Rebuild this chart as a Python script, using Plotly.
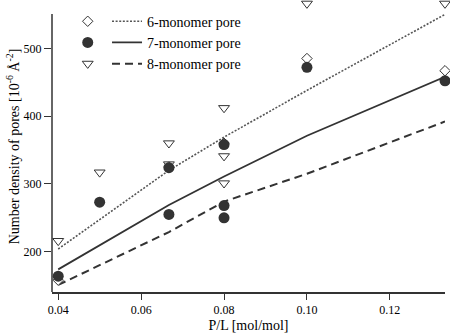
import plotly.graph_objects as go

x6 = [0.04, 0.0667, 0.08, 0.10, 0.1333]
y6 = [158, 325, 360, 485, 467]

x7 = [0.04, 0.05, 0.0667, 0.0667, 0.08, 0.08, 0.08, 0.10, 0.1333]
y7 = [164, 273, 324, 255, 358, 268, 250, 472, 452]

x8 = [0.04, 0.05, 0.0667, 0.0667, 0.08, 0.08, 0.08, 0.10, 0.1333]
y8 = [216, 317, 360, 329, 412, 341, 301, 566, 566]

# curvas del modelo
x_fit = [0.04, 0.0667, 0.08, 0.10, 0.1333]
fit6 = [204, 320, 369, 438, 550]
fit7 = [174, 269, 311, 371, 458]
fit8 = [151, 229, 274, 315, 392]

names = ["6-monomer pore", "7-monomer pore", "8-monomer pore"]

ink = "#333333"
fnt = "Liberation Serif"

y_lo, y_axis_top, y_hi = 140.6, 550.6, 569.8

fig = go.Figure()

# lineas (leyenda principal)
fig.add_trace(go.Scatter(x=x_fit, y=fit6, mode="lines", name=names[0],
                         line=dict(color="#555555", width=1.6, dash="2px,1.6px"),
                         legend="legend"))
fig.add_trace(go.Scatter(x=x_fit, y=fit7, mode="lines", name=names[1],
                         line=dict(color=ink, width=1.8),
                         legend="legend"))
fig.add_trace(go.Scatter(x=x_fit, y=fit8, mode="lines", name=names[2],
                         line=dict(color=ink, width=2, dash="8px,5px"),
                         legend="legend"))

# marcadores (segunda leyenda, sin texto)
fig.add_trace(go.Scatter(x=x8, y=y8, mode="markers", name=" ",
                         marker=dict(symbol="triangle-down", size=9.5, color="white",
                                     line=dict(color=ink, width=1)),
                         cliponaxis=False, legend="legend2", legendrank=3))
fig.add_trace(go.Scatter(x=x6, y=y6, mode="markers", name=" ",
                         marker=dict(symbol="diamond", size=8, color="white",
                                     line=dict(color=ink, width=1)),
                         cliponaxis=False, legend="legend2", legendrank=1))
fig.add_trace(go.Scatter(x=x7, y=y7, mode="markers", name=" ",
                         marker=dict(symbol="circle", size=11, color=ink,
                                     line=dict(color=ink, width=0)),
                         cliponaxis=False, legend="legend2", legendrank=2))

# eje y dibujado a mano: termina en 550 aunque el rango llegue mas arriba
fig.add_shape(type="line", xref="paper", yref="y", x0=0, x1=0,
              y0=y_lo, y1=y_axis_top, line=dict(color=ink, width=1.5))

fig.update_layout(
    width=450, height=335,
    margin=dict(l=52, r=5, t=1, b=43),
    paper_bgcolor="white", plot_bgcolor="white",
    font=dict(family=fnt, size=12, color="black"),
    showlegend=True,
    legend=dict(x=0.14, y=0.984, xanchor="left", yanchor="top",
                bgcolor="rgba(0,0,0,0)", font=dict(family=fnt, size=14),
                traceorder="normal"),
    legend2=dict(x=0.04, y=0.984, xanchor="left", yanchor="top",
                 bgcolor="rgba(0,0,0,0)", font=dict(family=fnt, size=14)),
    xaxis=dict(range=[0.0385, 0.1333], tickvals=[0.04, 0.06, 0.08, 0.10, 0.12],
               ticktext=["0.04", "0.06", "0.08", "0.10", "0.12"],
               ticks="outside", ticklen=6, tickcolor=ink, showline=True,
               linecolor=ink, linewidth=1.5, showgrid=False, zeroline=False,
               tickfont=dict(size=12),
               title=dict(text="P/L [mol/mol]", font=dict(size=14), standoff=4)),
    yaxis=dict(range=[y_lo, y_hi], tickvals=[200, 300, 400, 500],
               ticks="outside", ticklen=7, tickcolor=ink, showline=False,
               showgrid=False, zeroline=False,
               tickfont=dict(size=12),
               title=dict(text="Number density of pores [10<sup>-6</sup> Å<sup>-2</sup>]",
                          font=dict(size=14), standoff=0)),
)

# quitar el margen del body para que la figura quede en (0,0)
fig.write_html("out.html", config={"displayModeBar": False},
               post_script="document.body.style.margin='0';")
